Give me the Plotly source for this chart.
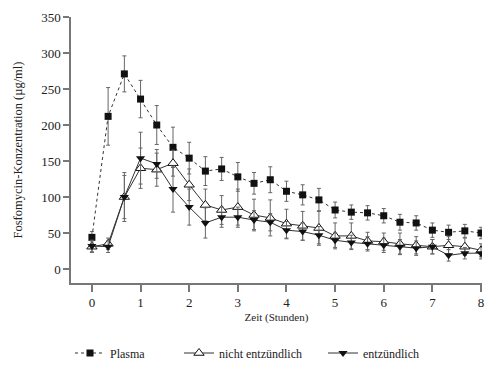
import plotly.graph_objects as go

zeit = [0, 0.333, 0.667, 1, 1.333, 1.667, 2, 2.333, 2.667, 3, 3.333, 3.667, 4,
        4.333, 4.667, 5, 5.333, 5.667, 6, 6.333, 6.667, 7, 7.333, 7.667, 8]

plasma = [44, 212, 271, 236, 200, 169, 154, 136, 139, 128, 119, 124, 108,
          103, 96, 82, 79, 78, 74, 65, 64, 54, 51, 53, 50]
plasma_err = [8, 40, 25, 26, 27, 28, 22, 20, 16, 20, 15, 18, 14,
              14, 16, 11, 10, 10, 10, 11, 10, 10, 10, 9, 8]

nicht = [31, 35, 100, 140, 138, 147, 117, 89, 82, 86, 75, 71, 63,
         60, 57, 46, 46, 39, 38, 35, 33, 31, 33, 31, 26]
nicht_err = [8, 8, 34, 28, 23, 18, 22, 22, 20, 25, 22, 25, 20,
             20, 24, 18, 18, 12, 12, 15, 12, 10, 12, 12, 9]

entz = [32, 31, 100, 154, 146, 111, 86, 64, 72, 72, 68, 65, 54,
        52, 47, 40, 37, 35, 33, 31, 29, 31, 19, 22, 22]
entz_err = [8, 8, 30, 36, 20, 32, 25, 21, 14, 14, 13, 12, 12,
            12, 12, 10, 10, 10, 10, 10, 10, 10, 8, 8, 8]

x_ticks = [0, 1, 2, 3, 4, 5, 6, 7, 8]
y_ticks = [0, 50, 100, 150, 200, 250, 300, 350]

FONT = "Liberation Serif"
LINE = "#333333"
ERR = "#666666"

# the page body adds an 8px offset; figure is sized to fit the 500x365 window
W, H = 492, 357

fig = go.Figure()

fig.add_trace(go.Scatter(
    x=zeit, y=plasma, name="Plasma", mode="lines+markers",
    line=dict(color=LINE, width=1, dash="dot"),
    marker=dict(symbol="square", size=7, color="#111111",
                line=dict(color="#111111", width=0)),
    error_y=dict(type="data", array=plasma_err, color=ERR, thickness=1, width=2),
    legend="legend",
))
fig.add_trace(go.Scatter(
    x=zeit, y=nicht, name="nicht entzündlich", mode="lines+markers",
    line=dict(color=LINE, width=1),
    marker=dict(symbol="triangle-up", size=9, color="white",
                line=dict(color="#111111", width=1)),
    error_y=dict(type="data", array=nicht_err, color=ERR, thickness=1, width=2),
    legend="legend2",
))
fig.add_trace(go.Scatter(
    x=zeit, y=entz, name="entzündlich", mode="lines+markers",
    line=dict(color=LINE, width=1),
    marker=dict(symbol="triangle-down", size=8, color="#111111",
                line=dict(color="#111111", width=0)),
    error_y=dict(type="data", array=entz_err, color=ERR, thickness=1, width=2),
    legend="legend3",
))

leg_common = dict(xref="container", yref="container", xanchor="left", yanchor="middle",
                  y=1 - 345 / H, orientation="h", bgcolor="rgba(0,0,0,0)",
                  font=dict(family=FONT, size=12, color="#222222"))

fig.update_layout(
    width=W, height=H,
    margin=dict(l=63, r=18, t=9, b=82, autoexpand=False),
    paper_bgcolor="white", plot_bgcolor="white",
    font=dict(family=FONT, size=12, color="#222222"),
    showlegend=True,
    legend=dict(x=62 / W, **leg_common),
    legend2=dict(x=171 / W, **leg_common),
    legend3=dict(x=315 / W, **leg_common),
    xaxis=dict(
        range=[-0.43, 8.02], tickvals=x_ticks, ticktext=[str(v) for v in x_ticks],
        showgrid=False, zeroline=False, showline=True, linecolor="#777777", linewidth=1.5,
        ticks="outside", ticklen=7, tickcolor="#777777", tickwidth=1.5, automargin=False,
        tickfont=dict(family=FONT, size=13, color="#222222"),
        title=dict(text="Zeit (Stunden)", font=dict(family=FONT, size=11, color="#222222"),
                   standoff=4),
    ),
    yaxis=dict(
        range=[-19.4, 350], tickvals=y_ticks, ticktext=[str(v) for v in y_ticks],
        showgrid=False, zeroline=False, showline=True, linecolor="#777777", linewidth=1.5,
        ticks="outside", ticklen=6, tickcolor="#777777", tickwidth=1.5, automargin=False,
        tickfont=dict(family=FONT, size=13, color="#222222"),
        title=dict(text="Fosfomycin-Konzentration (µg/ml)",
                   font=dict(family=FONT, size=12.5, color="#222222"), standoff=16),
    ),
)

fig.write_html("out.html")
